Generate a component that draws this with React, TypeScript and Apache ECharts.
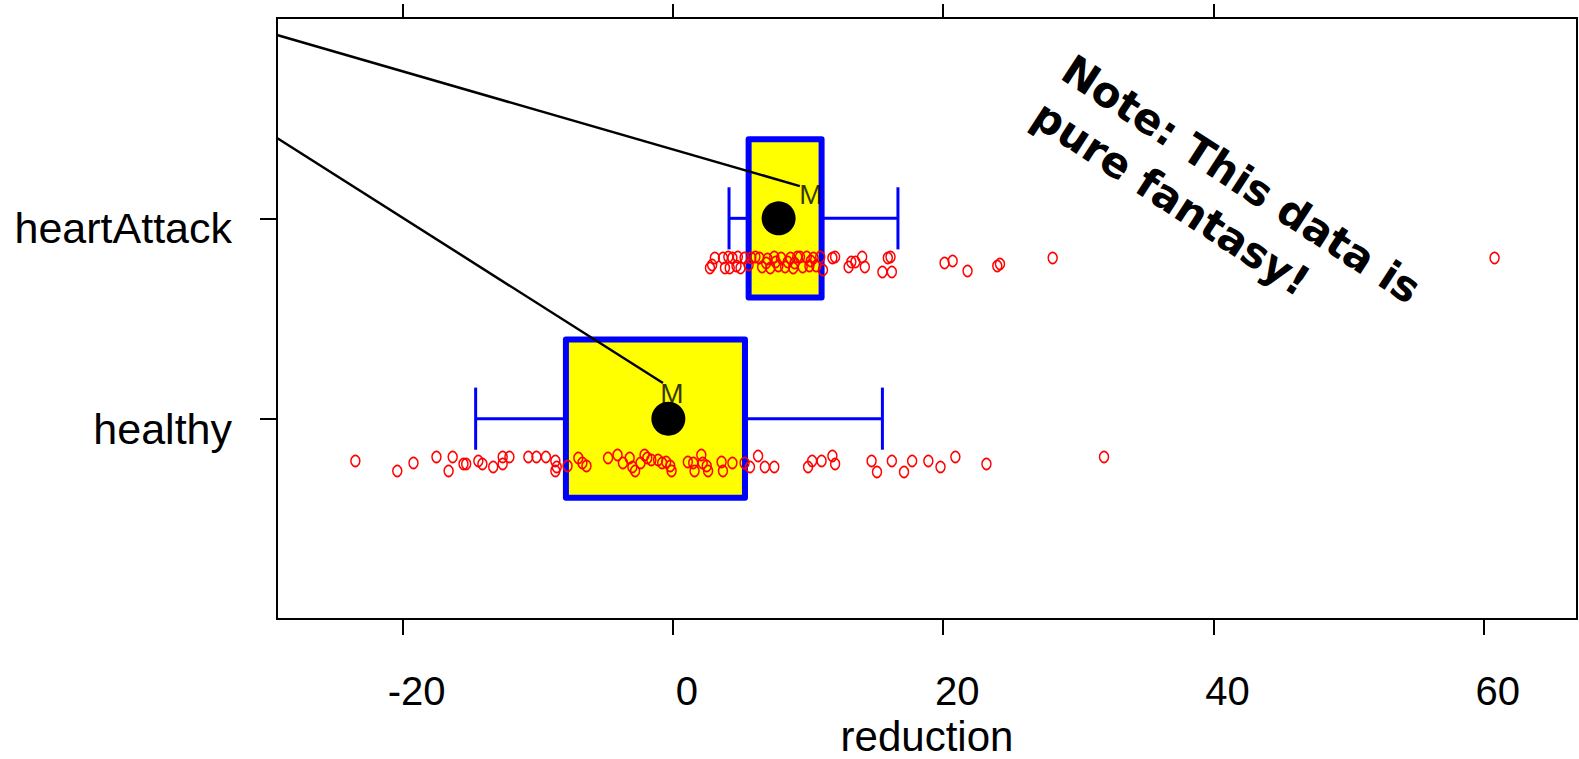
import React, { useEffect, useRef } from "react";
import * as echarts from "echarts";

// ---- data ----
const categories = ["healthy", "heartAttack"];
const categoryTicks = [1, 2];
const xTicks = [-20, 0, 20, 40, 60];
const xTopTicks = [-20, 0, 20, 40];

// box stats: [lowWhisker, q1, q3, highWhisker, categoryIndex]
const boxStats = [
  [-14.6, -7.92, 5.33, 15.5, 1],
  [4.15, 5.6, 11.0, 16.65, 2],
];
const means = [
  [-0.34, 1.0],
  [7.82, 2.0],
];

const heartAttackReduction = [
  2.74, 2.9, 3.1, 3.7, 4.1, 4.4, 4.8, 3.85, 4.2, 4.7, 5.3, 5.6, 5.8, 6.1, 6.4, 6.6,
  7.0, 7.2, 7.5, 7.8, 8.0, 8.3, 8.7, 8.9, 9.2, 9.4, 9.6, 9.9, 10.1, 10.4, 10.6, 10.9,
  11.1, 11.8, 12.0, 13.0, 13.2, 13.5, 14.0, 14.2, 15.5, 15.9, 16.1, 16.2, 20.1, 20.7,
  21.8, 24.0, 24.2, 28.1, 60.8, 5.0, 6.9, 8.5, 9.0, 7.6, 10.2,
];
const heartAttackY = [
  1.752, 1.767, 1.802, 1.802, 1.807, 1.802, 1.807, 1.752, 1.752, 1.762, 1.802, 1.767,
  1.802, 1.807, 1.802, 1.757, 1.797, 1.752, 1.807, 1.762, 1.802, 1.757, 1.802, 1.752,
  1.807, 1.807, 1.757, 1.807, 1.762, 1.802, 1.762, 1.807, 1.742, 1.802, 1.807, 1.757,
  1.782, 1.782, 1.807, 1.757, 1.732, 1.802, 1.807, 1.732, 1.777, 1.787, 1.737, 1.762,
  1.772, 1.802, 1.802, 1.752, 1.777, 1.782, 1.777, 1.782, 1.787,
];

const healthyReduction = [
  -23.5, -20.4, -19.2, -17.5, -16.6, -16.3, -15.5, -15.3, -14.4, -14.1, -13.3, -12.6,
  -12.6, -12.1, -10.7, -10.1, -9.4, -8.7, -8.7, -8.6, -7.8, -7.0, -6.7, -6.4, -4.8,
  -4.1, -3.7, -3.2, -3.0, -2.8, -2.4, -2.1, -1.9, -1.6, -1.1, -0.8, -0.5, -0.2, -0.1,
  1.1, 1.5, 1.6, 2.1, 2.2, 2.5, 2.6, 3.6, 3.7, 4.4, 5.3, 5.7, 6.3, 6.8, 7.5, 10.0,
  10.3, 11.0, 11.8, 12.0, 14.7, 15.1, 16.2, 17.1, 17.7, 18.9, 19.8, 20.9, 23.2, 31.9,
];
const healthyY = [
  0.789, 0.739, 0.779, 0.809, 0.739, 0.809, 0.774, 0.774, 0.789, 0.774, 0.759, 0.774,
  0.809, 0.809, 0.809, 0.809, 0.809, 0.789, 0.739, 0.759, 0.764, 0.804, 0.779, 0.764,
  0.804, 0.819, 0.779, 0.804, 0.759, 0.739, 0.779, 0.819, 0.804, 0.794, 0.794, 0.779,
  0.784, 0.764, 0.739, 0.784, 0.779, 0.739, 0.819, 0.779, 0.764, 0.739, 0.784, 0.739,
  0.779, 0.779, 0.759, 0.814, 0.759, 0.759, 0.759, 0.789, 0.789, 0.814, 0.774, 0.789,
  0.734, 0.789, 0.734, 0.789, 0.789, 0.759, 0.809, 0.774, 0.809,
];

// annotation lines and "M" labels (data coordinates)
const annotationLines = [
  [[-29.3, 2.915], [9.39, 2.161]],
  [[-29.3, 2.401], [-0.74, 1.178]],
];
const mLabels = [
  [10.2, 2.117],
  [-0.07, 1.128],
];

const noteText = "Note: This data is\npure fantasy!";

const X_MIN = -29.3;
const X_MAX = 66.9;

export default function App() {
  const ref = useRef<HTMLDivElement>(null);

  useEffect(() => {
    if (!ref.current) return;
    const chart = echarts.init(ref.current, undefined, { renderer: "svg" });
    const boxHalf = 0.395;
    const capHalf = 0.155;

    const option: any = {
      animation: false,
      backgroundColor: "#ffffff",
      textStyle: { fontFamily: "Liberation Sans" },
      grid: {
        left: 277,
        right: 2,
        top: 18,
        bottom: 140,
        show: true,
        borderColor: "#000",
        borderWidth: 2,
        backgroundColor: "transparent",
        outerBoundsMode: "none",
        containLabel: false,
      },
      xAxis: [
        {
          type: "value",
          position: "bottom",
          min: X_MIN,
          max: X_MAX,
          axisLine: { show: false, onZero: false },
          splitLine: { show: false },
          axisTick: {
            show: true,
            customValues: xTicks,
            length: 16,
            lineStyle: { color: "#000", width: 2 },
          },
          axisLabel: {
            customValues: xTicks,
            fontSize: 40,
            color: "#000",
            margin: 52,
            padding: [0, 0, 0, 28],
          },
          name: "reduction",
          nameLocation: "middle",
          nameGap: 114,
          nameTextStyle: {
            fontSize: 42,
            color: "#000",
            lineHeight: 42,
            verticalAlign: "middle",
          },
        },
        {
          type: "value",
          position: "top",
          min: X_MIN,
          max: X_MAX,
          axisLine: { show: false, onZero: false },
          splitLine: { show: false },
          axisTick: {
            show: true,
            customValues: xTopTicks,
            length: 14,
            lineStyle: { color: "#000", width: 2 },
          },
          axisLabel: { show: false },
        },
      ],
      yAxis: {
        type: "value",
        min: 0,
        max: 3,
        axisLine: { show: false, onZero: false },
        splitLine: { show: false },
        axisTick: {
          show: true,
          customValues: categoryTicks,
          length: 17,
          lineStyle: { color: "#000", width: 2 },
        },
        axisLabel: {
          customValues: categoryTicks,
          formatter: (v: number) => categories[Math.round(v) - 1] || "",
          fontSize: 43,
          color: "#000",
          margin: 45,
          verticalAlign: "top",
          lineHeight: 20,
        },
      },
      graphic: [
        {
          type: "text",
          x: 1081,
          y: 43,
          rotation: (-33 * Math.PI) / 180,
          z: 100,
          style: {
            text: noteText,
            font: 'bold 42px "DejaVu Sans"',
            fill: "#000",
            align: "left",
            verticalAlign: "top",
            lineHeight: 54,
          },
        },
      ],
      series: [
        {
          type: "custom",
          xAxisIndex: 0,
          data: boxStats,
          encode: { x: [0, 1, 2, 3], y: 4 },
          z: 1,
          renderItem: (params: any, api: any) => {
            const cat = api.value(4);
            const lo = api.coord([api.value(0), cat]);
            const q1 = api.coord([api.value(1), cat]);
            const q3 = api.coord([api.value(2), cat]);
            const hi = api.coord([api.value(3), cat]);
            const bh = api.size([0, boxHalf * 2])[1];
            const ch = api.size([0, capHalf * 2])[1];
            const yc = q1[1];
            const blue = "#0000ff";
            return {
              type: "group",
              children: [
                { type: "line", shape: { x1: lo[0], y1: yc, x2: q1[0], y2: yc }, style: { stroke: blue, lineWidth: 3 } },
                { type: "line", shape: { x1: q3[0], y1: yc, x2: hi[0], y2: yc }, style: { stroke: blue, lineWidth: 3 } },
                { type: "line", shape: { x1: lo[0], y1: yc - ch / 2, x2: lo[0], y2: yc + ch / 2 }, style: { stroke: blue, lineWidth: 3 } },
                { type: "line", shape: { x1: hi[0], y1: yc - ch / 2, x2: hi[0], y2: yc + ch / 2 }, style: { stroke: blue, lineWidth: 3 } },
                {
                  type: "rect",
                  shape: { x: q1[0], y: yc - bh / 2, width: q3[0] - q1[0], height: bh },
                  style: { fill: "#ffff00", stroke: blue, lineWidth: 6, lineJoin: "round" },
                },
              ],
            };
          },
        },
        {
          type: "scatter",
          data: heartAttackReduction.map((x, i) => [x, heartAttackY[i]]),
          symbol: "circle",
          symbolSize: [9, 11],
          itemStyle: { color: "transparent", borderColor: "#ff0000", borderWidth: 1.6, opacity: 1 },
          z: 3,
        },
        {
          type: "scatter",
          data: healthyReduction.map((x, i) => [x, healthyY[i]]),
          symbol: "circle",
          symbolSize: [9, 11],
          itemStyle: { color: "transparent", borderColor: "#ff0000", borderWidth: 1.6, opacity: 1 },
          z: 3,
        },
        {
          type: "scatter",
          data: means,
          symbol: "circle",
          symbolSize: 34,
          itemStyle: { color: "#000", opacity: 1 },
          z: 4,
        },
        ...annotationLines.map((seg) => ({
          type: "line",
          data: seg,
          symbol: "none",
          showSymbol: false,
          lineStyle: { color: "#000", width: 2.5 },
          itemStyle: { color: "#000" },
          clip: true,
          z: 5,
        })),
        {
          type: "scatter",
          data: mLabels,
          symbolSize: 1,
          itemStyle: { color: "transparent" },
          label: {
            show: true,
            position: "inside",
            formatter: "M",
            fontSize: 28,
            color: "#000",
          },
          z: 6,
        },
      ],
    };
    chart.setOption(option);
    return () => chart.dispose();
  }, []);

  return (
    <div
      ref={ref}
      style={{ position: "fixed", left: 0, top: 0, width: 1579, height: 759 }}
    />
  );
}
